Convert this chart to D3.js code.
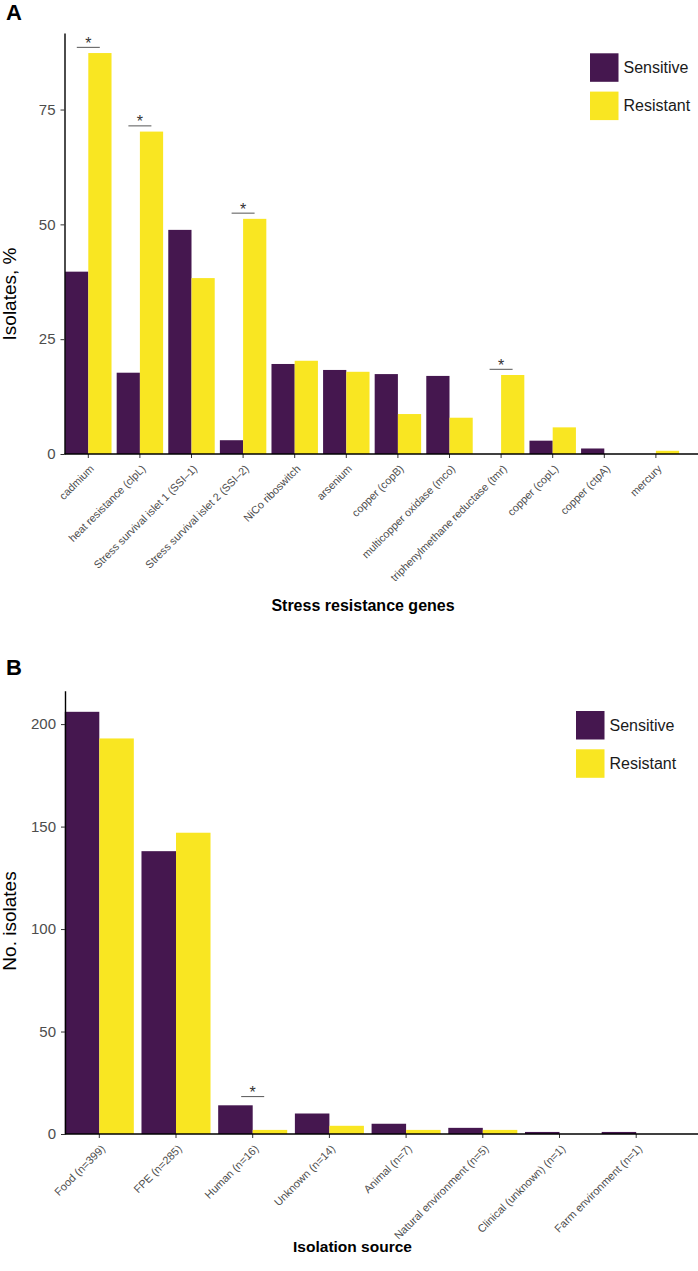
<!DOCTYPE html>
<html>
<head>
<meta charset="utf-8">
<script src="https://cdn.jsdelivr.net/npm/d3@7"></script>
<style>
  body { margin: 0; background: #fff; }
  svg { display: block; font-family: "Liberation Sans", Arial, Helvetica, sans-serif; }
  .tick line { stroke: #333; }
</style>
</head>
<body>
<div id="chart"></div>
<script>
// Panel A data: % of isolates carrying each stress resistance gene
var genes = ["cadmium", "heat resistance (clpL)", "Stress survival islet 1 (SSI\u20131)",
  "Stress survival islet 2 (SSI\u20132)", "NiCo riboswitch", "arsenium", "copper (copB)",
  "multicopper oxidase (mco)", "triphenylmethane reductase (tmr)", "copper (copL)",
  "copper (ctpA)", "mercury"];
var genesSensitive = [39.7, 17.7, 48.8, 3.0, 19.6, 18.3, 17.4, 17.0, 0, 2.9, 1.2, 0];
var genesResistant = [87.3, 70.2, 38.3, 51.2, 20.3, 17.9, 8.7, 7.9, 17.2, 5.8, 0, 0.7];
var genesSignificant = ["cadmium", "heat resistance (clpL)", "Stress survival islet 2 (SSI\u20132)",
  "triphenylmethane reductase (tmr)"];
var yTicksA = [0, 25, 50, 75];

// Panel B data: number of isolates per isolation source
var sources = ["Food (n=399)", "FPE (n=285)", "Human (n=16)", "Unknown (n=14)", "Animal (n=7)",
  "Natural environment (n=5)", "Clinical (unknown) (n=1)", "Farm environment (n=1)"];
var sourcesSensitive = [206, 138, 14, 10, 5, 3, 1, 1];
var sourcesResistant = [193, 147, 2, 4, 2, 2, 0, 0];
var sourcesSignificant = ["Human (n=16)"];
var yTicksB = [0, 50, 100, 150, 200];

var groups = ["Sensitive", "Resistant"];
var colors = ["#45174f", "#f9e622"];

var svgWidth = 698;
var svgHeight = 1271;

var svg = d3.select("#chart")
  .append("svg")
  .attr("width", svgWidth)
  .attr("height", svgHeight);

var color = d3.scaleOrdinal().domain(groups).range(colors);

function drawPanel(p) {
  var g = svg.append("g");

  var rows = p.cats.map(function(c, i) {
    return { cat: c, Sensitive: p.sens[i], Resistant: p.res[i] };
  });

  var x = d3.scaleBand()
    .domain(p.cats)
    .range([p.x0, p.x0 + p.step * p.cats.length])
    .padding(0);

  var xSub = d3.scaleBand()
    .domain(groups)
    .range([p.step * 0.05, p.step * 0.95]);

  var y = d3.scaleLinear()
    .domain([0, d3.max(rows, d => Math.max(d.Sensitive, d.Resistant)) * 1.05])
    .range([p.bottom, p.top]);

  // bars
  g.selectAll("g.grp")
    .data(rows)
    .enter()
    .append("g")
    .attr("class", "grp")
    .attr("transform", d => `translate(${x(d.cat)},0)`)
    .selectAll("rect")
    .data(d => groups.map(k => ({ key: k, value: d[k] })))
    .enter()
    .append("rect")
    .attr("x", d => xSub(d.key))
    .attr("width", xSub.bandwidth())
    .attr("y", d => y(d.value))
    .attr("height", d => y(0) - y(d.value))
    .attr("fill", d => color(d.key));

  // y axis
  var yAxis = g.append("g")
    .attr("transform", `translate(${p.axisX},0)`)
    .call(d3.axisLeft(y).tickValues(p.yTicks).tickSize(4).tickSizeOuter(0).tickPadding(5));
  yAxis.select(".domain").attr("stroke", "#000").attr("stroke-width", 1.4);
  yAxis.selectAll("text")
    .attr("fill", "#4d4d4d")
    .attr("font-size", "15px")
    .attr("font-family", "Liberation Sans, Arial, sans-serif");

  // x axis (band axis already puts ticks at band centres)
  var xAxis = g.append("g")
    .attr("transform", `translate(0,${p.bottom})`)
    .call(d3.axisBottom(x).tickSize(4).tickSizeOuter(0));
  xAxis.select(".domain").remove();
  xAxis.selectAll("text")
    .attr("x", 0)
    .attr("y", 0)
    .attr("dy", "0.71em")
    .attr("transform", "translate(1,10) rotate(-45)")
    .style("text-anchor", "end")
    .attr("fill", "#4d4d4d")
    .attr("font-size", p.labelSize + "px")
    .attr("font-family", "Liberation Sans, Arial, sans-serif");

  g.append("line")
    .attr("x1", p.axisX)
    .attr("x2", svgWidth)
    .attr("y1", p.bottom)
    .attr("y2", p.bottom)
    .attr("stroke", "#000")
    .attr("stroke-width", 1.4);

  // significance marks
  var sig = rows.filter(d => p.sig.indexOf(d.cat) >= 0);
  sig.forEach(function(d) {
    var cx = x(d.cat) + x.bandwidth() / 2;
    var ly = y(Math.max(d.Sensitive, d.Resistant)) - p.sigGap;
    g.append("line")
      .attr("x1", cx - 11.5)
      .attr("x2", cx + 11.5)
      .attr("y1", ly)
      .attr("y2", ly)
      .attr("stroke", "#555")
      .attr("stroke-width", 1);
    g.append("text")
      .attr("x", cx)
      .attr("y", ly + 1.5)
      .attr("text-anchor", "middle")
      .attr("font-size", "16px")
      .attr("fill", "#333")
      .text("*");
  });

  // legend
  groups.forEach(function(k, i) {
    g.append("rect")
      .attr("x", p.legX)
      .attr("y", p.legY + i * 38.3)
      .attr("width", 28.5)
      .attr("height", 28.5)
      .attr("fill", color(k));
    g.append("text")
      .attr("x", p.legX + 33.5)
      .attr("y", p.legY + i * 38.3 + 14.25)
      .attr("dy", "0.35em")
      .attr("font-size", "16px")
      .attr("fill", "#1a1a1a")
      .text(k);
  });

  // titles
  g.append("text")
    .attr("transform", `translate(16,${p.yTitleY}) rotate(-90)`)
    .attr("text-anchor", "middle")
    .attr("font-size", "19px")
    .attr("fill", "#000")
    .text(p.yTitle);

  g.append("text")
    .attr("x", p.xTitleX)
    .attr("y", p.xTitleY)
    .attr("text-anchor", "middle")
    .attr("font-size", p.xTitleSize + "px")
    .attr("font-weight", "bold")
    .attr("fill", "#000")
    .text(p.xTitle);

  g.append("text")
    .attr("x", 6)
    .attr("y", p.letterY)
    .attr("font-size", "22px")
    .attr("font-weight", "bold")
    .attr("fill", "#000")
    .text(p.letter);
}

drawPanel({
  cats: genes, sens: genesSensitive, res: genesResistant, sig: genesSignificant,
  yTicks: yTicksA, x0: 62.5, step: 51.6, top: 33, bottom: 454, axisX: 64.5,
  labelSize: 10.8, sigGap: 5.7, legX: 590, legY: 53.3,
  yTitle: "Isolates, %", yTitleY: 294,
  xTitle: "Stress resistance genes", xTitleX: 363, xTitleY: 611, xTitleSize: 16,
  letter: "A", letterY: 20
});

drawPanel({
  cats: sources, sens: sourcesSensitive, res: sourcesResistant, sig: sourcesSignificant,
  yTicks: yTicksB, x0: 60.95, step: 76.7, top: 690.7, bottom: 1134, axisX: 65,
  labelSize: 11, sigGap: 8.7, legX: 576, legY: 711,
  yTitle: "No. isolates", yTitleY: 921,
  xTitle: "Isolation source", xTitleX: 352.5, xTitleY: 1251.5, xTitleSize: 15.5,
  letter: "B", letterY: 675
});
</script>
</body>
</html>
